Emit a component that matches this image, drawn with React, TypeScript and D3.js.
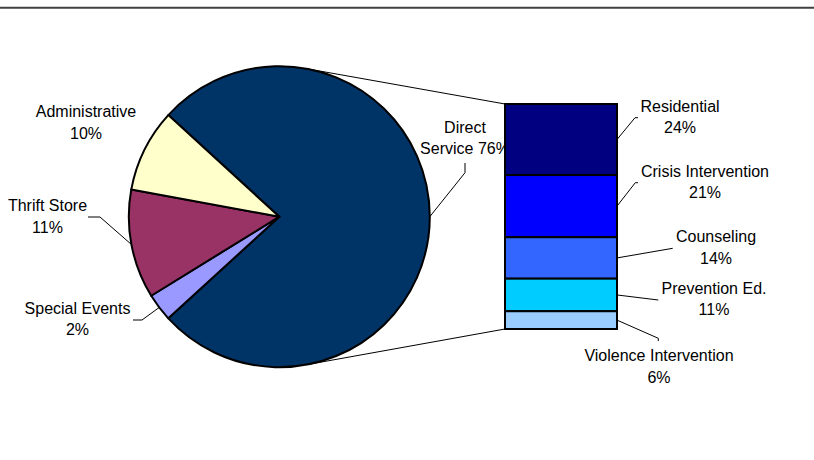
import React, { useEffect } from "react";
import * as d3 from "d3";

// ---- data ----
const pieCategories = ["Direct Service", "Special Events", "Thrift Store", "Administrative"];
const pieShares = [76.4, 3.0, 11.7, 8.9];
const pieLabels = ["76%", "2%", "11%", "10%"];
const pieColors = ["#003366", "#9999FF", "#993366", "#FFFFCC"];

const barCategories = ["Residential", "Crisis Intervention", "Counseling", "Prevention Ed.", "Violence Intervention"];
const barShares = [24, 21, 14, 11, 6];
const barLabels = ["24%", "21%", "14%", "11%", "6%"];
const barColors = ["#000080", "#0000FF", "#3366FF", "#00CCFF", "#99CCFF"];

// ---- layout ----
const W = 814, H = 460;
const cx = 279.3, cy = 216.7, R = 150.5;
const barX0 = 505, barX1 = 617, barTop = 104, barBottom = 329;
const FONT = "'Liberation Sans', Arial, Helvetica, sans-serif";
const FS = 16;
const LH = 21.4;

// label positions (center of first text line) and leader elbows
const pieLabelLayout: Record<string, { lines: (p: string) => string[]; x: number; y: number; leader?: [number, number][] }> = {
  "Direct Service": { lines: (p) => ["Direct", "Service " + p], x: 465, y: 127, leader: [[465, 172.7], [465, 163]] },
  "Special Events": { lines: (p) => ["Special Events", p], x: 77.5, y: 308.3, leader: [[142, 320], [133, 320]] },
  "Thrift Store": { lines: (p) => ["Thrift Store", p], x: 47.5, y: 205.7, leader: [[100, 217], [88, 217]] },
  "Administrative": { lines: (p) => ["Administrative", p], x: 86, y: 111.5 },
};
const barLabelLayout: Record<string, { x: number; y: number; leader: [number, number][] }> = {
  "Residential": { x: 680, y: 106, leader: [[635, 117.7], [638, 117.7]] },
  "Crisis Intervention": { x: 705, y: 171, leader: [[635.3, 182.7], [638, 182.7]] },
  "Counseling": { x: 716, y: 236.7, leader: [[672.7, 248.3]] },
  "Prevention Ed.": { x: 714, y: 288.3, leader: [[658.3, 300]] },
  "Violence Intervention": { x: 659, y: 355.7, leader: [[658.3, 338.3], [658.3, 341]] },
};

export default function App() {
  useEffect(() => {
    document.body.style.margin = "0";
    document.body.style.overflow = "hidden";
    document.documentElement.style.overflow = "hidden";
  }, []);

  const total = d3.sum(pieShares);
  const start = Math.PI / 2 - (Math.PI * pieShares[0]) / total;
  const pie = d3
    .pie<number>()
    .sort(null)
    .value((d) => d)
    .startAngle(start)
    .endAngle(start + 2 * Math.PI);
  const arcs = pie(pieShares);
  const arc = d3.arc<d3.PieArcDatum<number>>().innerRadius(0).outerRadius(R);

  const barTotal = d3.sum(barShares);
  const y = d3.scaleLinear().domain([0, barTotal]).range([barTop, barBottom]);
  const cum = [0, ...Array.from(d3.cumsum(barShares))];

  // tangent lines from bar corners to circle
  const tangent = (px: number, py: number, sign: number): [number, number] => {
    const dx = px - cx, dy = py - cy;
    const d = Math.hypot(dx, dy);
    const phi = Math.atan2(dy, dx);
    const a = Math.acos(R / d);
    const t = phi + sign * a;
    return [cx + R * Math.cos(t), cy + R * Math.sin(t)];
  };
  const tTop = tangent(barX0, y(0), -1);
  const tBot = tangent(barX0, y(barTotal), 1);

  const edgePoint = (a: d3.PieArcDatum<number>): [number, number] => {
    const m = (a.startAngle + a.endAngle) / 2;
    return [cx + R * Math.sin(m), cy - R * Math.cos(m)];
  };

  const textProps = { fontFamily: FONT, fontSize: FS, fill: "#000", textAnchor: "middle" as const, dy: "0.36em" };

  return (
    <svg width={W} height={H} style={{ position: "fixed", left: 0, top: 0, display: "block", background: "#fff" }}>
      <line x1={0} x2={W} y1={7.7} y2={7.7} stroke="#404040" strokeWidth={2} />

      {/* connector lines */}
      <line x1={tTop[0]} y1={tTop[1]} x2={barX0} y2={y(0)} stroke="#000" strokeWidth={1} />
      <line x1={tBot[0]} y1={tBot[1]} x2={barX0} y2={y(barTotal)} stroke="#000" strokeWidth={1} />

      {/* pie */}
      <g transform={`translate(${cx},${cy})`}>
        {arcs.map((a, i) => (
          <path key={pieCategories[i]} d={arc(a) || ""} fill={pieColors[i]} stroke="#000" strokeWidth={2} strokeLinejoin="round" />
        ))}
      </g>

      {/* pie labels + leaders */}
      {arcs.map((a, i) => {
        const L = pieLabelLayout[pieCategories[i]];
        const lines = L.lines(pieLabels[i]);
        const pts = L.leader ? [edgePoint(a), ...L.leader] : null;
        return (
          <g key={"pl" + i}>
            {pts && <polyline points={pts.map((p) => p.join(",")).join(" ")} fill="none" stroke="#000" strokeWidth={1} />}
            {lines.map((t, j) => (
              <text key={j} x={L.x} y={L.y + j * LH} {...textProps}>
                {t}
              </text>
            ))}
          </g>
        );
      })}

      {/* bar */}
      {barShares.map((v, i) => (
        <rect
          key={barCategories[i]}
          x={barX0}
          y={y(cum[i])}
          width={barX1 - barX0}
          height={y(cum[i + 1]) - y(cum[i])}
          fill={barColors[i]}
          stroke="#000"
          strokeWidth={2}
        />
      ))}

      {/* bar labels + leaders */}
      {barShares.map((v, i) => {
        const L = barLabelLayout[barCategories[i]];
        const mid = (y(cum[i]) + y(cum[i + 1])) / 2;
        const pts: [number, number][] = [[barX1, mid], ...L.leader];
        return (
          <g key={"bl" + i}>
            <polyline points={pts.map((p) => p.join(",")).join(" ")} fill="none" stroke="#000" strokeWidth={1} />
            <text x={L.x} y={L.y} {...textProps}>{barCategories[i]}</text>
            <text x={L.x} y={L.y + LH} {...textProps}>{barLabels[i]}</text>
          </g>
        );
      })}
    </svg>
  );
}
